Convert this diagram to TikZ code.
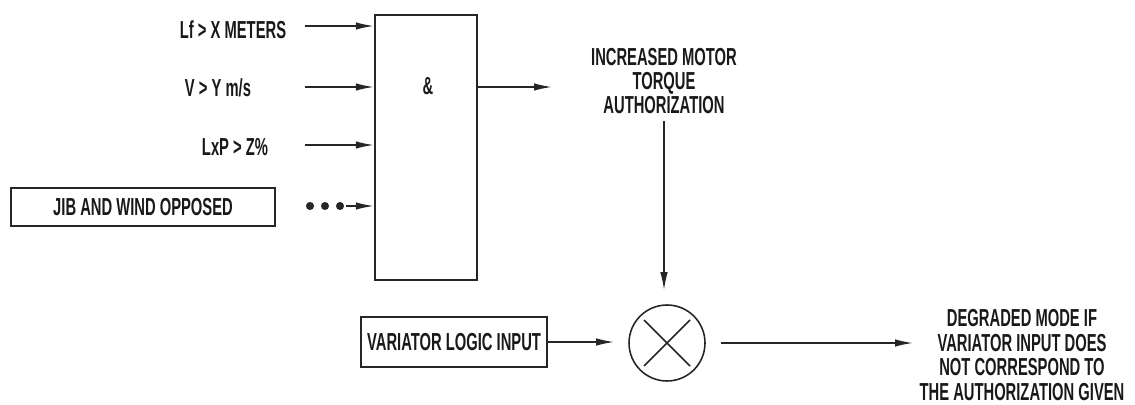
\documentclass[tikz,border=0pt]{standalone}
\usepackage{fontspec}
\setmainfont[FakeStretch=0.6]{Liberation Sans}
\usetikzlibrary{arrows.meta}

\begin{document}
\begin{tikzpicture}[x=0.02cm, y=-0.02cm, line width=0.9pt, black!85,
	every node/.style={font=\fontsize{14}{13.9}\selectfont\bfseries, text=black!90},
	>={Latex[length=3.6mm,width=1.5mm]},
	frame/.style={draw, line width=1.3pt, inner xsep=3.5pt, inner ysep=0pt}]
	\useasboundingbox (0,0) rectangle (1135,405);
	\node[draw, line width=1.3pt, minimum width=2.04cm, minimum height=5.3cm] (andg) at (426,147.5) {};
	\node (amp) at (428,86) {\&};
	\node (lf) at (233,30) {Lf > X METERS};
	\node (vel) at (218,88) {V > Y m/s};
	\node (lxp) at (235,147) {LxP > Z\%};
	\node[frame, minimum width=5.28cm, minimum height=0.76cm] (jib) at (143,207) {JIB AND WIND OPPOSED};
	\coordinate (in1) at (305,26);
	\coordinate (in2) at (305,87);
	\coordinate (in3) at (305,145);
	\coordinate (in4) at (346,206);
	\draw[->] (in1) -- (in1 -| andg.west);
	\draw[->] (in2) -- (in2 -| andg.west);
	\draw[->] (in3) -- (in3 -| andg.west);
	\draw[->] (in4) -- (in4 -| andg.west);
	\foreach \x in {310,325,340} \fill (\x,206) circle (2.3pt);
	\coordinate (outA) at (552,87);
	\draw[->] (andg.east |- outA) -- (outA);
	\node[align=center] (torque) at (664,81) {INCREASED MOTOR\\TORQUE\\AUTHORIZATION};
	\node[circle, draw, minimum size=1.52cm] (mult) at (667,343) {};
	\draw ([shift={(-23,-23)}]mult.center) -- ([shift={(23,23)}]mult.center);
	\draw ([shift={(-23,23)}]mult.center) -- ([shift={(23,-23)}]mult.center);
	\draw[->, shorten >=0.28cm] (torque.south) -- (torque.south |- mult.north);
	\node[frame, minimum height=1cm] (var) at (454,342) {VARIATOR LOGIC INPUT};
	\draw[->, shorten >=0.28cm] (var.east) -- (var.east -| mult.west);
	\node[align=center] (degr) at (1022,355) {DEGRADED MODE IF\\VARIATOR INPUT DOES\\NOT CORRESPOND TO\\THE AUTHORIZATION GIVEN};
	\draw[->, shorten <=0.3cm] (mult.east) -- (mult.east -| degr.west);
\end{tikzpicture}
\end{document}
